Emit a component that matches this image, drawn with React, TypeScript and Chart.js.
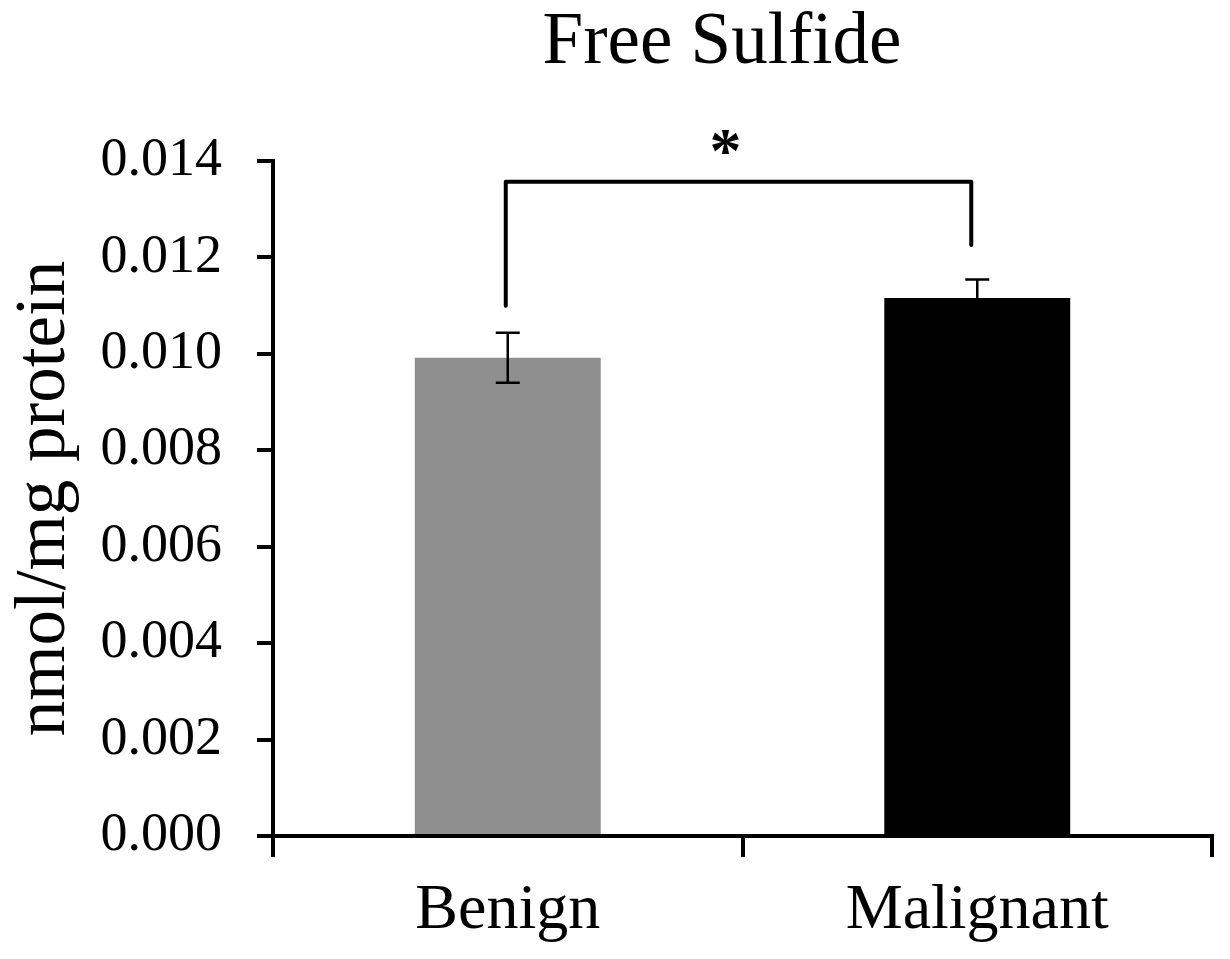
import React, { useEffect, useRef } from "react";
import { Chart, registerables } from "chart.js";

Chart.register(...registerables);

const chartTitle = "Free Sulfide";
const yAxisTitle = "nmol/mg protein";
const categories = ["Benign", "Malignant"];
const means = [0.00992, 0.01116];
const errors = [0.00052, 0.00038];
const barColors = ["#8f8f8f", "#000000"];
const yTicksMin = 0;
const yTicksMax = 0.014;
const yTickStep = 0.002;
const bracketTop = 0.01357;
const bracketLegEnds = [0.011, 0.01226];
const significanceLabel = "*";
const starLevel = 0.01438;

const SERIF = "'Liberation Serif', 'Times New Roman', serif";

export default function App() {
  const ref = useRef<HTMLCanvasElement | null>(null);

  useEffect(() => {
    if (!ref.current) return;

    const overlay = {
      id: "overlay",
      afterDatasetsDraw(chart: any) {
        const ctx = chart.ctx;
        const xs = chart.scales.x;
        const ys = chart.scales.y;
        ctx.save();
        // error bars
        ctx.strokeStyle = "#000";
        ctx.lineWidth = 2.5;
        means.forEach((m, i) => {
          const x = xs.getPixelForValue(i);
          const yTop = ys.getPixelForValue(m + errors[i]);
          const yBot = ys.getPixelForValue(m - errors[i]);
          ctx.beginPath();
          ctx.moveTo(x, yTop);
          ctx.lineTo(x, yBot);
          ctx.moveTo(x - 12, yTop);
          ctx.lineTo(x + 12, yTop);
          ctx.moveTo(x - 12, yBot);
          ctx.lineTo(x + 12, yBot);
          ctx.stroke();
        });
        // significance bracket
        const x0 = xs.getPixelForValue(0) - 2;
        const x1 = xs.getPixelForValue(1) - 6;
        const yb = ys.getPixelForValue(bracketTop);
        ctx.lineWidth = 4;
        ctx.lineJoin = "round";
        ctx.lineCap = "round";
        ctx.beginPath();
        ctx.moveTo(x0, ys.getPixelForValue(bracketLegEnds[0]));
        ctx.lineTo(x0, yb);
        ctx.lineTo(x1, yb);
        ctx.lineTo(x1, ys.getPixelForValue(bracketLegEnds[1]));
        ctx.stroke();
        // star
        ctx.fillStyle = "#000";
        ctx.font = `bold 64px ${SERIF}`;
        ctx.textAlign = "center";
        ctx.textBaseline = "middle";
        ctx.fillText(significanceLabel, (x0 + x1) / 2 - 13, ys.getPixelForValue(starLevel) + 13);
        // title
        ctx.font = `73px ${SERIF}`;
        ctx.textBaseline = "alphabetic";
        ctx.fillText(chartTitle, 722, 63);
        ctx.restore();
      },
    };

    const chart = new Chart(ref.current, {
      type: "bar",
      data: {
        labels: categories,
        datasets: [
          {
            data: means,
            backgroundColor: barColors,
            borderWidth: 0,
            barPercentage: 0.396,
            categoryPercentage: 1,
          },
        ],
      },
      options: {
        animation: false,
        responsive: false,
        maintainAspectRatio: false,
        layout: { padding: { top: 161, right: 18, left: 0, bottom: 0 } },
        plugins: {
          legend: { display: false },
          tooltip: { enabled: false },
          title: { display: false },
        },
        scales: {
          x: {
            offset: true,
            grid: {
              offset: true,
              drawOnChartArea: false,
              drawTicks: true,
              tickLength: 21,
              lineWidth: 4,
              color: "#000",
            },
            border: { display: true, color: "#000", width: 4 },
            ticks: {
              color: "#000",
              padding: 16,
              font: { family: SERIF, size: 64, lineHeight: 1.2 },
            },
            afterFit(scale: any) {
              scale.height = 123;
            },
          },
          y: {
            min: yTicksMin,
            max: yTicksMax,
            grid: {
              drawOnChartArea: false,
              drawTicks: true,
              tickLength: 16,
              lineWidth: 4,
              color: "#000",
            },
            border: { display: true, color: "#000", width: 4 },
            ticks: {
              stepSize: yTickStep,
              color: "#000",
              padding: 35,
              font: { family: SERIF, size: 54 },
              callback: (v: any) => Number(v).toFixed(3),
            },
            title: {
              display: true,
              text: yAxisTitle,
              color: "#000",
              font: { family: SERIF, size: 71, lineHeight: 1.2 },
              padding: { top: 3, bottom: 0 },
            },
            afterFit(scale: any) {
              scale.width = 273;
            },
          },
        },
      },
      plugins: [overlay],
    });

    return () => chart.destroy();
  }, []);

  return (
    <div style={{ position: "fixed", left: 0, top: 0, width: 1230, height: 959, background: "#fff" }}>
      <canvas ref={ref} width={1230} height={959} style={{ width: 1230, height: 959, display: "block" }} />
    </div>
  );
}
